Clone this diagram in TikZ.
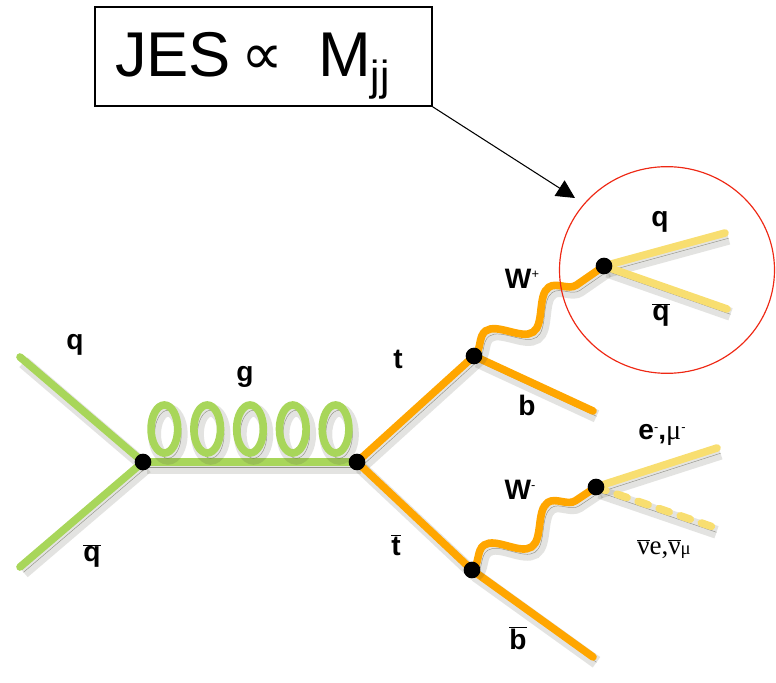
\documentclass[tikz,border=0pt]{standalone}
\usepackage{fontspec}
\setmainfont{Liberation Sans}
\newfontfamily\nufont{Liberation Serif}
\newfontfamily\symfont{DejaVu Sans}
\usetikzlibrary{calc,decorations.pathmorphing,arrows.meta,shapes.geometric}
\definecolor{gluongreen}{RGB}{168,214,90}
\definecolor{toporange}{RGB}{255,166,0}
\definecolor{jetyellow}{RGB}{248,222,112}
\definecolor{ringred}{RGB}{238,40,20}
\definecolor{shadowgrey}{RGB}{70,70,55}
\newcommand{\barred}[1]{$\overline{\mbox{#1}}$}

\begin{document}
\begin{tikzpicture}[x=0.03cm,y=-0.03cm]
\tikzstyle{particle}=[line width=6.5pt,line cap=round,
  preaction={draw=shadowgrey,opacity=0.15,line width=11pt,transform canvas={shift={(3pt,-4.5pt)}}},
  preaction={draw=shadowgrey,opacity=0.5,transform canvas={shift={(3pt,-4.5pt)}}}]
\tikzstyle{quark}=[particle,draw=gluongreen]
\tikzstyle{topline}=[particle,draw=toporange]
\tikzstyle{jet}=[particle,draw=jetyellow]
\tikzstyle{neutrino}=[particle,draw=jetyellow,dash pattern=on 9pt off 10pt]
\tikzstyle{boson}=[particle,draw=toporange,decorate,
  decoration={snake,amplitude=0.42cm,segment length=2.3cm}]
\tikzstyle{vertex}=[circle,fill=black,inner sep=0pt,minimum size=0.5cm]
\tikzstyle{lbl}=[font=\bfseries\fontsize{24}{24}\selectfont]
\useasboundingbox (0,0) rectangle (776,683);

% vertices and free ends
\coordinate (qin) at (20,357);
\coordinate (qbarin) at (20,567);
\coordinate (V1) at (143,462);
\coordinate (V2) at (357,462);
\coordinate (V3) at (474,356);
\coordinate (V5) at (472,570);
\coordinate (V4) at (604,266);
\coordinate (V6) at (596,487);
\coordinate (bout) at (593,411);
\coordinate (bbarout) at (593,657);
\coordinate (qout) at (725,233);
\coordinate (qbarout) at (727,309);
\coordinate (lepout) at (717,448);
\coordinate (nuout) at (713,527);

% lines
\draw[quark] (qin) -- (V1);
\draw[quark] (qbarin) -- (V1);
\draw[quark] (V1) -- (V2);
\foreach \f in {0.1,0.3,0.5,0.7,0.9}
  \draw[quark] ($(V1)!\f!(V2)+(0,-33)$) ellipse [x radius=0.4cm,y radius=0.72cm];
\draw[topline] (V2) -- (V3);
\draw[topline] (V2) -- (V5);
\draw[topline] (V3) -- (bout);
\draw[topline] (V5) -- (bbarout);
\draw[boson] (V3) -- (V4);
\draw[boson] (V5) -- (V6);
\draw[jet] (V4) -- (qout);
\draw[jet] (V4) -- (qbarout);
\draw[jet] (V6) -- (lepout);
\draw[neutrino] (V6) -- (nuout);

% dots on top
\node[vertex] (d1) at (V1) {};
\node[vertex] (d2) at (V2) {};
\node[vertex] (d3) at (V3) {};
\node[vertex] (d4) at (V4) {};
\node[vertex] (d5) at (V5) {};
\node[vertex] (d6) at (V6) {};

% labels
\node[lbl] (qlbl) at (75,345) {q};
\node[lbl] (qbarlbl) at (92,556) {\barred{q}};
\node[lbl] (glbl) at (245,377) {g};
\node[lbl] (tlbl) at (398,359) {t};
\node[lbl] (tbarlbl) at (396,545) {\barred{t}};
\node[lbl] (wplbl) at (522,279) {W\raisebox{0.32cm}{\fontsize{11}{11}\selectfont\mdseries +}};
\node[lbl] (blbl) at (527,405) {b};
\node[lbl] (bbarlbl) at (518,638) {\barred{b}};
\node[lbl] (qjlbl) at (660,222) {q};
\node[lbl] (qbarjlbl) at (661,315) {\barred{q}};
\node[lbl] (wmlbl) at (520,490) {W\raisebox{0.32cm}{\fontsize{11}{11}\selectfont\mdseries -}};
\node[lbl] (leplbl) at (662,435) {e\raisebox{0.25cm}{\fontsize{11}{11}\selectfont\mdseries -},{\mdseries\nufont μ}\raisebox{0.25cm}{\fontsize{11}{11}\selectfont\mdseries -}};
\node[font=\nufont\fontsize{23}{23}\selectfont] (nulbl) at (664,549)
  {\barred{ν}e,\barred{ν}{\fontsize{16}{16}\selectfont μ}};

% JES box and highlight
\node[draw,line width=1.2pt,text width=8.9cm,inner xsep=0.6cm,minimum height=2.97cm,
  text height=1.6cm,text depth=0.37cm,align=left,font=\fontsize{54}{54}\selectfont] (jes) at (263.5,56.5)
  {JES\hspace{0.3cm}\raisebox{0.08cm}{\symfont\fontsize{50}{50}\selectfont ∝}\hspace{1.05cm}M\raisebox{-0.42cm}{\fontsize{36}{36}\selectfont jj}};
\node[ellipse,draw=ringred,line width=1pt,inner sep=0pt,
  minimum width=6.45cm,minimum height=6.2cm] (ring) at (667,270) {};
\coordinate (tip) at (575,198);
\draw[line width=0.9pt,-{Triangle[length=0.55cm,width=0.55cm]}] (jes.south east) -- (tip);
\end{tikzpicture}
\end{document}
